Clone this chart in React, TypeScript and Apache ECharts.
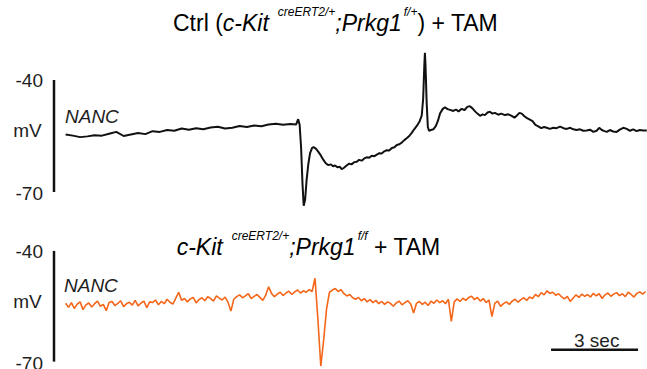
import React, { useEffect, useRef } from "react";
import * as echarts from "echarts";

// Ctrl trace (black): time in seconds, membrane potential in mV
const ctrlTime = [
  0.4, 0.65, 0.9, 1.15, 1.4, 1.65, 1.9, 2.15, 2.4, 2.65, 2.9, 3.15, 3.4, 3.65, 3.9, 4.15, 4.4, 4.65, 4.9, 5.15,
  5.4, 5.65, 5.9, 6.15, 6.4, 6.65, 6.9, 7.15, 7.4, 7.65, 7.9, 8.15, 8.35, 8.42, 8.47, 8.52, 8.57, 8.61, 8.66, 8.71,
  8.77, 8.83, 8.9, 8.95, 9.03, 9.11, 9.2, 9.29, 9.37, 9.46, 9.55, 9.62, 9.69, 9.78, 9.85, 9.92, 10.0, 10.09, 10.18, 10.26,
  10.35, 10.44, 10.52, 10.61, 10.7, 10.78, 10.87, 10.96, 11.05, 11.13, 11.22, 11.3, 11.39, 11.47, 11.56, 11.65, 11.74, 11.82, 11.91, 12.0,
  12.08, 12.16, 12.25, 12.34, 12.42, 12.51, 12.6, 12.68, 12.73, 12.77, 12.79, 12.81, 12.85, 12.89, 12.93, 13.0, 13.08, 13.17, 13.24, 13.31,
  13.4, 13.48, 13.57, 13.66, 13.77, 13.86, 13.95, 14.06, 14.15, 14.25, 14.34, 14.43, 14.52, 14.6, 14.69, 14.78, 14.86, 14.95, 15.03, 15.12,
  15.2, 15.32, 15.42, 15.55, 15.67, 15.78, 15.88, 15.96, 16.05, 16.13, 16.22, 16.31, 16.41, 16.5, 16.6, 16.7, 16.8, 16.9, 16.99, 17.1,
  17.22, 17.33, 17.45, 17.57, 17.68, 17.8, 17.91, 18.02, 18.14, 18.25, 18.37, 18.48, 18.6, 18.71, 18.8, 18.89, 18.98, 19.06, 19.17, 19.28,
  19.4, 19.51, 19.63, 19.75, 19.86, 19.97, 20.09, 20.2, 20.32, 20.44,
];
const ctrlMv = [
  -54.6, -54.9, -55.3, -55.1, -54.8, -54.9, -54.4, -53.9, -55.0, -54.6, -54.2, -54.5, -53.7, -53.9, -53.4, -53.6, -53.0, -53.3, -52.9, -53.2,
  -52.7, -52.5, -53.0, -52.8, -52.3, -52.6, -52.2, -52.4, -51.9, -51.7, -52.0, -51.8, -51.9, -50.5, -52.0, -58.0, -68.0, -73.7, -72.0, -66.8,
  -62.5, -59.6, -58.2, -58.0, -58.4, -59.2, -60.2, -61.4, -62.3, -62.8, -62.6, -63.1, -62.9, -63.4, -63.2, -63.9, -63.5, -62.9, -62.4, -62.6,
  -62.0, -61.9, -61.4, -61.6, -61.0, -60.7, -60.8, -60.3, -60.4, -60.0, -59.6, -59.7, -59.1, -58.8, -58.9, -58.2, -58.0, -57.4, -57.2, -56.7,
  -56.1, -55.6, -55.0, -54.1, -53.2, -52.3, -51.2, -49.5, -45.0, -36.0, -32.7, -36.0, -46.0, -52.5, -53.6, -53.4, -53.2, -52.3, -50.9, -49.0,
  -47.8, -47.3, -47.8, -48.0, -48.3, -47.9, -48.4, -47.7, -48.1, -47.2, -47.0, -47.6, -48.4, -49.0, -49.6, -49.2, -49.4, -48.7, -48.5, -49.0,
  -48.8, -49.3, -49.0, -49.4, -49.2, -49.6, -50.1, -49.5, -48.8, -49.0, -49.7, -50.2, -50.6, -51.0, -52.0, -52.4, -52.9, -52.6, -52.8, -53.1,
  -52.8, -52.9, -52.5, -52.9, -53.1, -52.8, -53.2, -53.4, -53.2, -53.6, -53.5, -53.3, -53.9, -53.6, -52.8, -53.4, -53.7, -53.9, -53.4, -53.8,
  -53.9, -53.3, -52.8, -53.1, -53.6, -53.2, -53.7, -53.4, -53.5, -53.5,
];

// Prkg1 f/f trace (orange): sampled every 0.1 s starting at 0.4 s
const koStart = 0.4;
const koStep = 0.1;
const koMv = [
  -54.2, -55.3, -54.0, -55.6, -54.4, -53.8, -55.9, -54.6, -54.1, -55.2,
  -54.3, -53.6, -55.0, -54.5, -56.2, -54.0, -53.7, -54.8, -54.2, -53.5,
  -55.1, -54.3, -53.9, -54.7, -53.4, -54.9, -54.1, -53.6, -55.4, -53.8,
  -54.0, -53.3, -54.6, -53.7, -54.3, -53.1, -53.9, -54.4, -52.8, -51.2,
  -53.4, -52.9, -53.8, -53.0, -52.6, -54.1, -53.2, -52.7, -53.5, -52.4,
  -52.9, -53.6, -52.2, -52.8, -53.3, -52.5, -53.9, -56.3, -53.1, -52.4,
  -51.9, -52.7, -52.2, -51.6, -52.9, -52.3, -51.8, -52.6, -53.4, -52.0,
  -49.7, -51.5, -52.4, -51.7, -51.2, -52.1, -51.4, -50.9, -51.8, -51.1,
  -50.6, -51.4, -50.8, -51.2, -50.5, -51.0, -47.4, -58.5, -71.2, -64.0,
  -55.6, -51.2, -50.6, -50.2, -51.0, -50.5, -51.6, -52.2, -51.8, -52.7,
  -53.1, -52.6, -53.5, -52.9, -53.8, -53.2, -54.0, -53.4, -54.3, -53.7,
  -54.5, -53.8, -54.2, -55.0, -54.1, -53.6, -54.6, -54.0, -53.5, -54.4,
  -56.8, -54.2, -53.7, -54.5, -53.9, -54.8, -53.6, -54.2, -53.3, -54.0,
  -53.5, -54.3, -53.1, -59.1, -53.8, -53.0, -53.7, -52.8, -53.4, -52.6,
  -52.3, -53.2, -52.6, -53.6, -52.9, -54.0, -53.3, -57.8, -54.2, -53.6,
  -55.0, -54.3, -53.8, -54.5, -53.6, -53.1, -53.9, -53.2, -52.7, -53.4,
  -52.5, -52.9, -51.8, -52.4, -51.3, -51.9, -50.8, -51.5, -51.2, -52.0,
  -51.6, -52.4, -53.0, -52.3, -53.7, -52.8, -51.9, -52.6, -51.7, -52.3,
  -51.8, -52.5, -51.5, -52.2, -51.6, -52.9, -51.9, -51.4, -52.3, -51.7,
  -51.3, -52.1, -51.6, -52.4, -51.2, -51.8, -52.5, -51.5, -51.1, -51.7,
  -51.0,
];

// Scale bars
const voltBar = [-40, -70]; // mV
const timeBarSec = 3;
const timeBarStart = 17.14;
const timeBarLevel = -66.8;

const FONT = "'Liberation Sans', Arial, sans-serif";
const TXT = "#1e1e1e";

export default function App() {
  const ref = useRef<HTMLDivElement>(null);

  useEffect(() => {
    if (!ref.current) return;
    const chart = echarts.init(ref.current, undefined, { renderer: "svg" });

    const koData = koMv.map((v, i) => [+(koStart + i * koStep).toFixed(2), v]);
    const ctrlData = ctrlMv.map((v, i) => [ctrlTime[i], v]);

    const richBase = (p: number) => ({
      n: { fontSize: 23, fontFamily: FONT, color: TXT, lineHeight: 27, verticalAlign: "bottom" },
      i: { fontSize: 23, fontFamily: FONT, fontStyle: "italic", color: TXT, lineHeight: 27, verticalAlign: "bottom" },
      s: {
        fontSize: 12,
        fontFamily: FONT,
        fontStyle: "italic",
        color: TXT,
        lineHeight: 13,
        verticalAlign: "bottom",
        padding: [0, 0, p, 9],
      },
      s2: {
        fontSize: 12,
        fontFamily: FONT,
        fontStyle: "italic",
        color: TXT,
        lineHeight: 13,
        verticalAlign: "bottom",
        padding: [0, 0, p, 2],
      },
    });

    const label = (text: string, x: number, y: number, italic = false, align = "right") => ({
      type: "text",
      x,
      y,
      style: {
        text,
        fontSize: 19,
        fontFamily: FONT,
        fontStyle: italic ? "italic" : "normal",
        fill: TXT,
        align,
        verticalAlign: "middle",
      },
    });

    chart.setOption({
      animation: false,
      grid: [
        { left: 54, width: 593, top: 42.67, height: 171.73 },
        { left: 54, width: 593, top: 228.8, height: 140.6 },
      ],
      xAxis: [
        { type: "value", gridIndex: 0, min: 0, max: 20.448, show: false },
        { type: "value", gridIndex: 1, min: 0, max: 20.448, show: false },
      ],
      yAxis: [
        { type: "value", gridIndex: 0, min: -76, max: -30, show: false },
        { type: "value", gridIndex: 1, min: -72, max: -34, show: false },
      ],
      series: [
        {
          type: "line",
          xAxisIndex: 0,
          yAxisIndex: 0,
          data: ctrlData,
          symbol: "none",
          clip: false,
          lineStyle: { color: "#111", width: 2 },
        },
        {
          type: "line",
          xAxisIndex: 1,
          yAxisIndex: 1,
          data: koData,
          symbol: "none",
          clip: false,
          lineStyle: { color: "#f4661a", width: 1.6 },
        },
        {
          type: "line",
          xAxisIndex: 0,
          yAxisIndex: 0,
          data: voltBar.map((v) => [0, v]),
          symbol: "none",
          clip: false,
          lineStyle: { color: "#111", width: 2.5 },
        },
        {
          type: "line",
          xAxisIndex: 1,
          yAxisIndex: 1,
          data: voltBar.map((v) => [0, v]),
          symbol: "none",
          clip: false,
          lineStyle: { color: "#111", width: 2.5 },
        },
        {
          type: "line",
          xAxisIndex: 1,
          yAxisIndex: 1,
          data: [
            [timeBarStart, timeBarLevel],
            [timeBarStart + timeBarSec, timeBarLevel],
          ],
          symbol: "none",
          clip: false,
          lineStyle: { color: "#111", width: 2.5 },
        },
      ],
      graphic: [
        {
          type: "text",
          x: 173,
          y: 7.5,
          style: {
            text: "{n|Ctrl (}{i|c-Kit}{s|creERT2/+}{i|;Prkg1}{s2|f/+}{n|) + TAM}",
            rich: richBase(17),
            align: "left",
            verticalAlign: "top",
          },
        },
        {
          type: "text",
          x: 176.7,
          y: 231.5,
          style: {
            text: "{i|c-Kit}{s|creERT2/+}{i|;Prkg1}{s2|f/f}{n| + TAM}",
            rich: richBase(17),
            align: "left",
            verticalAlign: "top",
          },
        },
        label("-40", 43, 80.7),
        label("mV", 41.7, 130),
        label("-70", 43, 193.3),
        label("-40", 43, 251.7),
        label("mV", 41.7, 301.7),
        label("-70", 43, 363),
        label("NANC", 65, 116.7, true, "left"),
        label("NANC", 64, 285, true, "left"),
        label(`${timeBarSec} sec`, 596.7, 340.5, false, "center"),
      ],
    });

    return () => chart.dispose();
  }, []);

  return (
    <div
      ref={ref}
      style={{ position: "absolute", left: 0, top: 0, width: 647, height: 369, background: "#fff" }}
    />
  );
}
